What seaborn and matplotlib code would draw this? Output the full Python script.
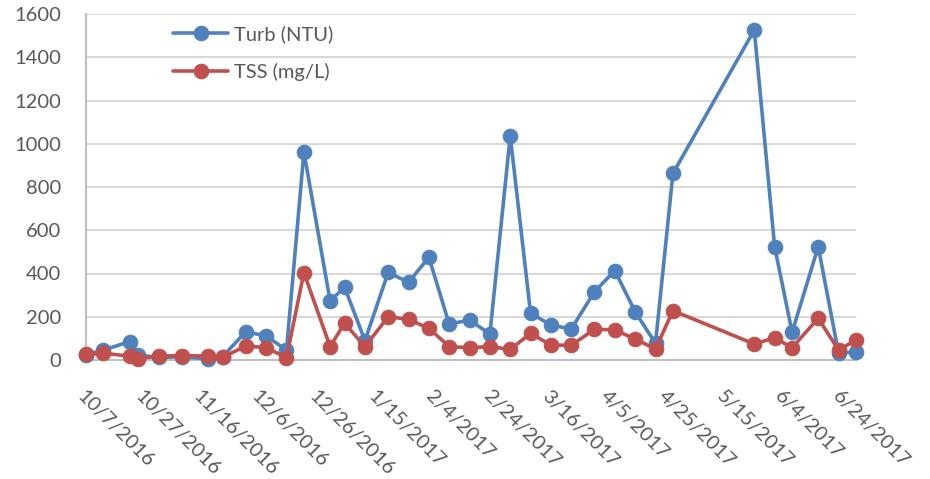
import matplotlib
matplotlib.use("Agg")
import matplotlib.pyplot as plt
import seaborn as sns
import pandas as pd
import numpy as np

# sample dates
dates = ["2016-10-07", "2016-10-13", "2016-10-22", "2016-10-25", "2016-11-01",
         "2016-11-09", "2016-11-18", "2016-11-23", "2016-12-01", "2016-12-08",
         "2016-12-15", "2016-12-21", "2016-12-30", "2017-01-04", "2017-01-11",
         "2017-01-19", "2017-01-26", "2017-02-02", "2017-02-09", "2017-02-16",
         "2017-02-23", "2017-03-02", "2017-03-09", "2017-03-16", "2017-03-23",
         "2017-03-31", "2017-04-07", "2017-04-14", "2017-04-21", "2017-04-27",
         "2017-05-25", "2017-06-01", "2017-06-07", "2017-06-16", "2017-06-23",
         "2017-06-29"]
turb = [25, 46, 85, 23, 12, 15, 5, 15, 131, 111,
        46, 962, 274, 336, 90, 405, 359, 475, 166, 185,
        120, 1036, 216, 162, 143, 316, 413, 223, 77, 863,
        1526, 524, 128, 524, 31, 38]
tss = [26, 31, 18, 6, 18, 20, 18, 12, 65, 57,
       11, 404, 62, 170, 62, 200, 188, 146, 62, 57,
       62, 49, 123, 69, 68, 142, 139, 97, 51, 228,
       74, 103, 57, 193, 46, 92]

tick_start = "2016-10-07"
x_end = "2017-06-29"
yticks = [0, 200, 400, 600, 800, 1000, 1200, 1400, 1600]

df = pd.DataFrame({"date": pd.to_datetime(dates), "Turb (NTU)": turb, "TSS (mg/L)": tss})

sns.set_style("white")
plt.rcParams['font.family'] = ['Lato', 'DejaVu Sans']

fig = plt.figure(figsize=(9.3, 4.79), dpi=100)
ax = fig.add_axes([86/930, 1 - 360/479, 770/930, 346/479])

blue = "#4f81bd"
red = "#c0504d"
for col, c in [("Turb (NTU)", blue), ("TSS (mg/L)", red)]:
    sns.lineplot(data=df, x="date", y=col, ax=ax, color=c, marker="o", markersize=10.5,
                 markeredgecolor=c, linewidth=2.6, label=col, clip_on=False, zorder=3)

ticks = pd.date_range(tick_start, periods=14, freq="20D")
ax.set_xticks(ticks)
ax.set_xticklabels([f"{d.month}/{d.day}/{d.year}" for d in ticks], rotation=-45,
                   ha="left", rotation_mode="anchor", fontsize=14.5, color="#595959")
ax.set_xlim(pd.Timestamp(tick_start), pd.Timestamp(x_end))
ax.set_ylim(0, 1600)
ax.set_yticks(yticks)
ax.set_yticklabels([str(v) for v in yticks], fontsize=14.5, color="#595959")
ax.tick_params(axis="x", length=0, pad=20)
ax.tick_params(axis="y", length=0, pad=18)
ax.set_xlabel("")
ax.set_ylabel("")

ax.grid(axis="y", color="#d9d9d9", linewidth=1.5)
ax.set_axisbelow(True)
for s in ["top", "right"]:
    ax.spines[s].set_visible(False)
for s in ["left", "bottom"]:
    ax.spines[s].set_color("#bfbfbf")
    ax.spines[s].set_linewidth(1.5)

leg = ax.legend(loc="upper left", bbox_to_anchor=(0.09, 1.02), frameon=False,
                fontsize=14.5, handlelength=2.7, labelspacing=1.0, handletextpad=0.3)
for t in leg.get_texts():
    t.set_color("#595959")

fig.savefig("out.png", dpi=100)
